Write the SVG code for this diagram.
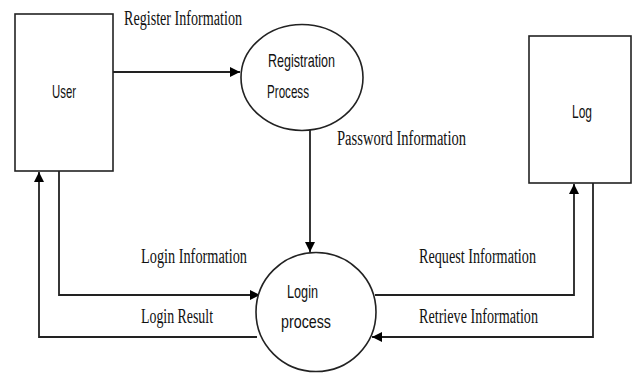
<svg xmlns="http://www.w3.org/2000/svg" width="633" height="373" viewBox="0 0 633 373">
<defs>
<marker id="arr" viewBox="0 0 10 10" refX="10" refY="5" markerWidth="10" markerHeight="10" markerUnits="userSpaceOnUse" orient="auto">
<path d="M0,0 L10,5 L0,10 z" fill="#000"/>
</marker>
<style>
.shape{fill:#fff;stroke:#222;stroke-width:1.6}
.line{fill:none;stroke:#222;stroke-width:1.8}
.node{font-family:"Liberation Sans",Arial,sans-serif;font-size:19px;fill:#111}
.lbl{font-family:"Liberation Serif","Times New Roman",serif;font-size:20px;fill:#111}
</style>
</defs>
<rect width="633" height="373" fill="#fff"/>
<g id="connectors">
<path class="line" d="M113,72 L240,72" marker-end="url(#arr)"/>
<path class="line" d="M310,130 L310,252" marker-end="url(#arr)"/>
<path class="line" d="M59,171 L59,295 L260,295" marker-end="url(#arr)"/>
<path class="line" d="M257,337 L39,337 L39,172" marker-end="url(#arr)"/>
<path class="line" d="M375,295 L574,295 L574,184" marker-end="url(#arr)"/>
<path class="line" d="M593,183 L593,337 L372,337" marker-end="url(#arr)"/>
<text class="lbl" x="124" y="25" textLength="118" lengthAdjust="spacingAndGlyphs">Register Information</text>
<text class="lbl" x="337" y="145" textLength="129" lengthAdjust="spacingAndGlyphs">Password Information</text>
<text class="lbl" x="141" y="263" textLength="106" lengthAdjust="spacingAndGlyphs">Login Information</text>
<text class="lbl" x="141" y="323" textLength="72" lengthAdjust="spacingAndGlyphs">Login Result</text>
<text class="lbl" x="419" y="263" textLength="117" lengthAdjust="spacingAndGlyphs">Request Information</text>
<text class="lbl" x="419" y="323" textLength="119" lengthAdjust="spacingAndGlyphs">Retrieve Information</text>
</g>
<g id="user">
<rect class="shape" x="15" y="14" width="98" height="157"/>
<text class="node" x="52" y="98" textLength="24" lengthAdjust="spacingAndGlyphs">User</text>
</g>
<g id="registration">
<ellipse class="shape" cx="302" cy="77.5" rx="61" ry="53"/>
<text class="node" x="268" y="67" textLength="67" lengthAdjust="spacingAndGlyphs">Registration</text>
<text class="node" x="267" y="98" textLength="42" lengthAdjust="spacingAndGlyphs">Process</text>
</g>
<g id="login">
<ellipse class="shape" cx="316" cy="312" rx="60" ry="59.5"/>
<text class="node" x="287" y="298" textLength="31" lengthAdjust="spacingAndGlyphs">Login</text>
<text class="node" x="281" y="328" textLength="50" lengthAdjust="spacingAndGlyphs">process</text>
</g>
<g id="log">
<rect class="shape" x="529" y="36" width="102" height="147"/>
<text class="node" x="572" y="118" textLength="20" lengthAdjust="spacingAndGlyphs">Log</text>
</g>
</svg>
